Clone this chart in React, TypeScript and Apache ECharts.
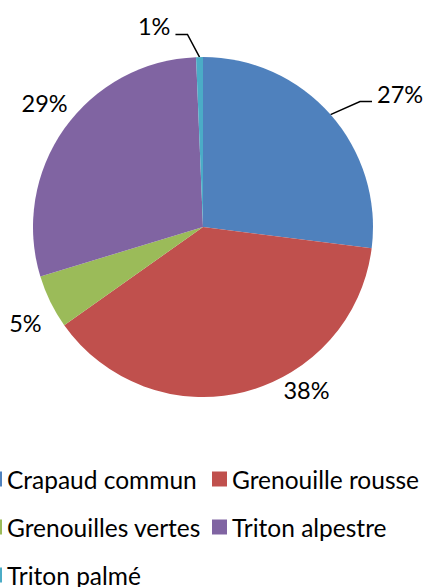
import React, { useEffect, useRef } from "react";
import * as echarts from "echarts";

const categories = ["Crapaud commun", "Grenouille rousse", "Grenouilles vertes", "Triton alpestre", "Triton palmé"];
const values = [27.0, 38.2, 5.1, 29.05, 0.65];
const colors = ["#4F81BD", "#C0504D", "#9BBB59", "#8064A2", "#4BACC6"];

// label placement (relative to slice mid-angle)
const labelShift = [7.3, -18.3, -2.4, 2.6, -12.5];
const labelDist = [238, 193.5, 202, 201, 206.4];
const labelHasLine = [true, false, false, false, true];

const CX = 203;
const CY = 227;
const R = 170;
const FONT = "Lato";
const FS_LABEL = 23.5;
const FS_LEGEND = 24.5;

export default function App() {
  const ref = useRef<HTMLDivElement>(null);
  useEffect(() => {
    document.body.style.margin = "0";
    if (!ref.current) return;
    const chart = echarts.init(ref.current, undefined, { renderer: "svg" });
    const total = values.reduce((a, b) => a + b, 0);
    const mids: number[] = [];
    let acc = 0;
    values.forEach((v) => {
      mids.push(((acc + v / 2) / total) * 360);
      acc += v;
    });
    chart.setOption({
      animation: false,
      color: colors,
      legend: {
        orient: "horizontal",
        left: -13,
        top: 460,
        width: 470,
        padding: 0,
        itemGap: 10,
        itemWidth: 15,
        itemHeight: 15,
        icon: "rect",
        selectedMode: false,
        data: categories,
        textStyle: {
          fontFamily: FONT,
          fontSize: FS_LEGEND,
          color: "#000",
          width: 195,
          lineHeight: 38,
        },
      },
      series: [
        {
          type: "pie",
          center: [CX, CY],
          radius: [0, R],
          startAngle: 90,
          clockwise: true,
          avoidLabelOverlap: false,
          percentPrecision: 0,
          label: {
            show: true,
            position: "outside",
            formatter: "{d}%",
            fontFamily: FONT,
            fontSize: FS_LABEL,
            color: "#000",
          },
          labelLine: {
            show: true,
            lineStyle: { color: "#000", width: 1.5 },
          },
          labelLayout: (params: any) => {
            const i = params.dataIndex;
            const a = ((mids[i] + labelShift[i]) * Math.PI) / 180;
            const x = CX + labelDist[i] * Math.sin(a);
            const y = CY - labelDist[i] * Math.cos(a);
            const res: any = { x, y, align: "center", verticalAlign: "middle" };
            if (labelHasLine[i]) {
              const side = Math.sin(a) >= 0 ? 1 : -1;
              const w = params.labelRect.width;
              const endX = x - side * (w / 2 + 5);
              const lineY = y + 8;
              const elbowX = endX - side * 12;
              const e = (mids[i] * Math.PI) / 180;
              res.labelLinePoints = [
                [CX + R * Math.sin(e), CY - R * Math.cos(e)],
                [elbowX, lineY],
                [endX, lineY],
              ];
            }
            return res;
          },
          emphasis: { disabled: true },
          data: categories.map((name, i) => ({
            name,
            value: values[i],
            labelLine: { show: labelHasLine[i] },
          })),
        },
      ],
    });
    return () => chart.dispose();
  }, []);
  return <div ref={ref} style={{ width: 425, height: 587 }} />;
}
